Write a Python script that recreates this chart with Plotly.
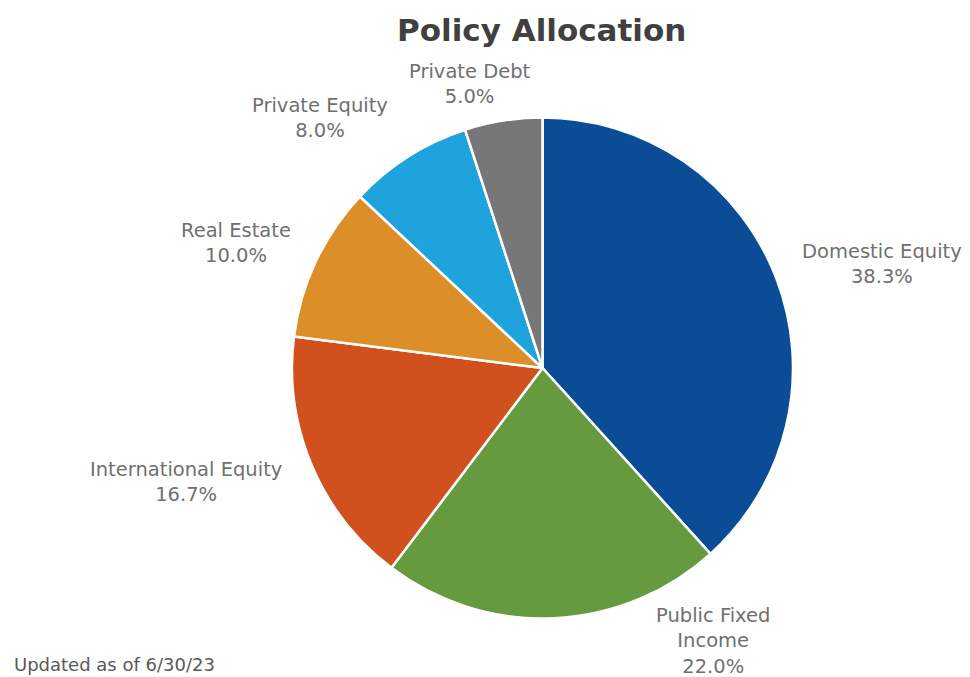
import plotly.graph_objects as go

# ---- data ----
categories = ["Domestic Equity", "Public Fixed Income", "International Equity",
              "Real Estate", "Private Equity", "Private Debt"]
label_text = ["Domestic Equity", "Public Fixed<br>Income", "International Equity",
              "Real Estate", "Private Equity", "Private Debt"]
values = [38.3, 22.0, 16.7, 10.0, 8.0, 5.0]
colors = ["#0A4D96", "#659A3F", "#D0511E", "#DC8E28", "#1EA3DD", "#777777"]
title_text = "Policy Allocation"
footnote = "Updated as of 6/30/23"

# ---- layout helpers ----
OFF = 8  # page body margin
W, H = 970 - OFF, 677 - OFF
label_px = [(882, 264), (713, 641), (186, 482), (236, 243), (320, 118), (470, 84)]


def px_x(x):
    return (x - OFF) / W


def px_y(y):
    return 1 - (y - OFF) / H


fig = go.Figure(go.Pie(
    labels=categories,
    values=values,
    sort=False,
    direction="clockwise",
    rotation=0,
    marker=dict(colors=colors, line=dict(color="white", width=2.5)),
    textinfo="none",
    hoverinfo="label+percent",
    domain=dict(x=[px_x(292), px_x(793)], y=[px_y(619), px_y(117)]),
    showlegend=False,
))

annotations = []
for txt, v, (px, py) in zip(label_text, values, label_px):
    annotations.append(dict(
        text=f"{txt}<br>{v:.1f}%",
        x=px_x(px), y=px_y(py), xref="paper", yref="paper",
        xanchor="center", yanchor="middle", showarrow=False, align="center",
        font=dict(family="DejaVu Sans, Verdana, sans-serif", size=19.5, color="#707070"),
    ))
annotations.append(dict(
    text=f"<b>{title_text}</b>", x=px_x(541), y=px_y(30), xref="paper", yref="paper",
    xanchor="center", yanchor="middle", showarrow=False,
    font=dict(family="DejaVu Sans, Verdana, sans-serif", size=31, color="#404040"),
))
annotations.append(dict(
    text=footnote, x=px_x(12), y=px_y(664), xref="paper", yref="paper",
    xanchor="left", yanchor="middle", showarrow=False,
    font=dict(family="DejaVu Sans, Verdana, sans-serif", size=18, color="#595959"),
))

fig.update_layout(
    width=W, height=H,
    margin=dict(l=0, r=0, t=0, b=0),
    paper_bgcolor="white",
    plot_bgcolor="white",
    annotations=annotations,
)

fig.write_html("out.html")
